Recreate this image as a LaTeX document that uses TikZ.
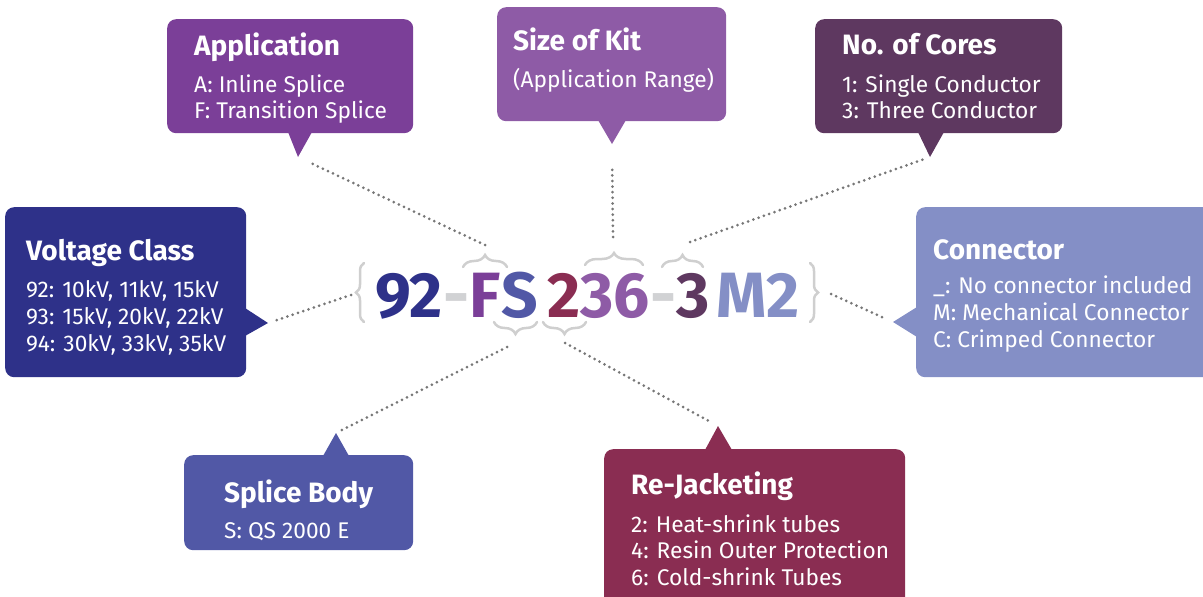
\documentclass[tikz,border=0pt]{standalone}
\usepackage{fontspec}
\setmainfont{Fira Sans}
\usetikzlibrary{decorations.pathreplacing}
\definecolor{cvolt}{HTML}{2E3189}
\definecolor{capp}{HTML}{7B3F98}
\definecolor{ckit}{HTML}{8E5BA6}
\definecolor{ccores}{HTML}{5E3860}
\definecolor{cconn}{HTML}{848FC6}
\definecolor{csplice}{HTML}{5158A6}
\definecolor{crej}{HTML}{8A2D52}
\definecolor{dashgray}{HTML}{D1D2D4}
\definecolor{bracegray}{HTML}{CFCFCF}
\definecolor{dotgray}{HTML}{777777}
\tikzset{
  box/.style={rounded corners=9pt, inner sep=0pt, anchor=north west, draw=none},
  ttl/.style={anchor=base west, inner sep=0pt, text=white, font=\fontsize{28}{32}\selectfont\bfseries},
  body/.style={anchor=base west, inner sep=0pt, text=white, font=\fontsize{22.7}{27}\selectfont},
  code/.style={anchor=base west, inner sep=0pt, font=\fontsize{64}{70}\selectfont\bfseries},
  dots/.style={draw=dotgray, line width=3pt, line cap=round, dash pattern=on 0pt off 5.6pt},
  brc/.style={draw=bracegray, line width=2.5pt, line cap=round, decorate, decoration={brace, amplitude=#1}},
}
\begin{document}
\begin{tikzpicture}[x=1pt,y=-1pt]
\useasboundingbox (0,0) rectangle (1203,597);
\clip (0,0) rectangle (1203,597);

% ---------- boxes ----------
% Application
\node[box, fill=capp, minimum width=246pt, minimum height=114pt] (appbox) at (167,19) {};
\fill[capp] (288,132) -- (298,157) -- (312,132) -- cycle;
\coordinate (apptip) at (298,157);
\node[ttl] (appt) at (194,55) {Application};
\node[body] (app1) at (194,92) {A: Inline Splice};
\node[body] (app2) at (194,118) {F: Transition Splice};

% Size of Kit
\node[box, fill=ckit, minimum width=229pt, minimum height=114pt] (kitbox) at (497,7) {};
\fill[ckit] (598,120) -- (612,144) -- (626,120) -- cycle;
\coordinate (kittip) at (612,144);
\node[ttl] (kitt) at (513,50) {Size of Kit};
\node[body] (kit1) at (513,87) {(Application Range)};

% No. of Cores
\node[box, fill=ccores, minimum width=247pt, minimum height=114pt] (corbox) at (815,19) {};
\fill[ccores] (918,132) -- (930,157) -- (944,132) -- cycle;
\coordinate (cortip) at (930,157);
\node[ttl] (cort) at (842,54) {No. of Cores};
\node[body] (cor1) at (842,92) {1: Single Conductor};
\node[body] (cor2) at (842,118) {3: Three Conductor};

% Voltage Class
\node[box, fill=cvolt, minimum width=241pt, minimum height=170pt] (volbox) at (5,207) {};
\fill[cvolt] (245,308) -- (268,323) -- (245,336) -- cycle;
\coordinate (voltip) at (268,323);
\node[ttl] (volt) at (26,260) {Voltage Class};
\node[body] (vol1) at (26,297) {92: 10kV, 11kV, 15kV};
\node[body] (vol2) at (26,324) {93: 15kV, 20kV, 22kV};
\node[body] (vol3) at (26,351) {94: 30kV, 33kV, 35kV};

% Connector
\node[box, fill=cconn, minimum width=300pt, minimum height=170pt] (conbox) at (916,207) {};
\fill[cconn] (917,307) -- (893,322) -- (917,337) -- cycle;
\coordinate (contip) at (893,322);
\node[ttl] (cont) at (933,259) {Connector};
\node[body] (con1) at (933,293) {\_: No connector included};
\node[body] (con2) at (933,320) {M: Mechanical Connector};
\node[body] (con3) at (933,347) {C: Crimped Connector};

% Splice Body
\node[box, fill=csplice, minimum width=229pt, minimum height=95pt] (splbox) at (184,455) {};
\fill[csplice] (323,456) -- (336,433) -- (349,456) -- cycle;
\coordinate (spltip) at (336,433);
\node[ttl] (splt) at (224,502) {Splice Body};
\node[body] (spl1) at (224,538) {S: QS 2000 E};

% Re-Jacketing
\node[box, fill=crej, minimum width=301pt, minimum height=160pt] (rejbox) at (604,449) {};
\fill[crej] (705,450) -- (718,426) -- (732,450) -- cycle;
\coordinate (rejtip) at (718,426);
\node[ttl] (rejt) at (631,494) {Re-Jacketing};
\node[body] (rej1) at (631,532) {2: Heat-shrink tubes};
\node[body] (rej2) at (631,558) {4: Resin Outer Protection};
\node[body] (rej3) at (631,585) {6: Cold-shrink Tubes};

% ---------- code ----------
\node[code, text=cvolt] (c92) at (375,317) {92};
\node[code, text=dashgray] (cd1) at (c92.base east) {-};
\node[code, text=capp] (cF) at (cd1.base east) {F};
\node[code, text=csplice] (cS) at (cF.base east) {S};
\node[code, text=crej] (c2) at (547,317) {2};
\node[code, text=ckit] (c36) at (c2.base east) {36};
\node[code, text=dashgray] (cd2) at (c36.base east) {-};
\node[code, text=ccores] (c3) at (cd2.base east) {3};
\node[code, text=cconn] (cM2) at (716,317) {M2};

% ---------- braces ----------
\draw[brc=8pt] (364,322) -- (364,263);
\draw[brc=8pt] (810,263) -- (810,322);
\draw[brc=12pt] (463,267) -- (507,267);
\draw[brc=12pt] (585,265) -- (643,265);
\draw[brc=12pt] (662,267) -- (703,267);
\draw[brc=12pt] (537,322) -- (494,322);
\draw[brc=12pt] (586,322) -- (543,322);

% ---------- dotted connectors ----------
\coordinate (appA) at (485,245);
\coordinate (kitA) at (613,237);
\coordinate (corA) at (690,242);
\coordinate (volA) at (351,295);
\coordinate (conA) at (831,294);
\coordinate (splA) at (507,347);
\coordinate (rejA) at (565,343);
\draw[dots, shorten >=14pt] (appA) -- (apptip);
\draw[dots, shorten >=21pt] (kitA) -- (kittip);
\draw[dots, shorten >=5pt] (corA) -- (cortip);
\draw[dots, shorten >=8pt] (volA) -- (voltip);
\draw[dots, shorten >=7pt] (conA) -- (contip);
\draw[dots, shorten >=6pt] (splA) -- (spltip);
\draw[dots, shorten >=10pt] (rejA) -- (rejtip);
\end{tikzpicture}
\end{document}
